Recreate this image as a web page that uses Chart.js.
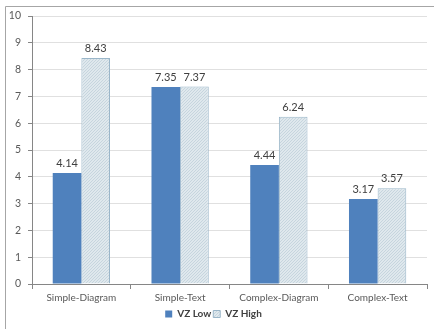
<!DOCTYPE html>
<html>
<head>
<meta charset="utf-8">
<script src="https://cdn.jsdelivr.net/npm/chart.js@4"></script>
<style>
  html, body { margin: 0; padding: 0; background: #ffffff; }
  #wrap { position: relative; width: 434px; height: 329px; }
</style>
</head>
<body>
<div id="wrap"><canvas id="c" width="434" height="329"></canvas></div>
<script>
// Mean scores per task type for low and high VZ groups
const categories = ['Simple-Diagram', 'Simple-Text', 'Complex-Diagram', 'Complex-Text'];
const vzLow  = [4.14, 7.35, 4.44, 3.17];
const vzHigh = [8.43, 7.37, 6.24, 3.57];
const yTicks = [0, 1, 2, 3, 4, 5, 6, 7, 8, 9, 10];

const FONT = 'Lato, "Open Sans", sans-serif';
const TEXT = '#595959';

// fine diagonal hatch used for the high group
function hatchPattern() {
  const p = document.createElement('canvas');
  p.width = 3; p.height = 3;
  const g = p.getContext('2d');
  g.fillStyle = '#dfe8ed';
  g.fillRect(0, 0, 3, 3);
  g.fillStyle = '#c6d5de';
  g.fillRect(2, 0, 1, 1);
  g.fillRect(1, 1, 1, 1);
  g.fillRect(0, 2, 1, 1);
  return g.createPattern(p, 'repeat');
}

// value labels above every bar
const valueLabels = {
  id: 'valueLabels',
  afterDatasetsDraw(chart) {
    const ctx = chart.ctx;
    ctx.save();
    ctx.font = '11px ' + FONT;
    ctx.fillStyle = '#404040';
    ctx.textAlign = 'center';
    ctx.textBaseline = 'bottom';
    chart.data.datasets.forEach((ds, i) => {
      chart.getDatasetMeta(i).data.forEach((bar, j) => {
        ctx.fillText(ds.data[j].toFixed(2), bar.x, bar.y - 4);
      });
    });
    ctx.restore();
  }
};

// outer frame of the chart
const frame = {
  id: 'frame',
  beforeDraw(chart) {
    const ctx = chart.ctx;
    ctx.save();
    ctx.strokeStyle = '#a6a6a6';
    ctx.lineWidth = 1;
    ctx.beginPath();
    ctx.moveTo(5.5, chart.height);
    ctx.lineTo(5.5, 6.5);
    ctx.lineTo(chart.width, 6.5);
    ctx.stroke();
    ctx.restore();
  }
};

new Chart(document.getElementById('c'), {
  type: 'bar',
  data: {
    labels: categories,
    datasets: [
      {
        label: 'VZ Low',
        data: vzLow,
        backgroundColor: '#4f81bd',
        borderColor: '#4f81bd',
        borderWidth: 0,
        categoryPercentage: 0.58,
        barPercentage: 1.0
      },
      {
        label: 'VZ High',
        data: vzHigh,
        backgroundColor: hatchPattern(),
        borderColor: '#9ab6c9',
        borderWidth: 1,
        categoryPercentage: 0.58,
        barPercentage: 1.0
      }
    ]
  },
  options: {
    responsive: false,
    animation: false,
    devicePixelRatio: 1,
    layout: { padding: { left: 0, right: 7, top: 16, bottom: 0 } },
    plugins: {
      tooltip: { enabled: false },
      legend: {
        position: 'bottom',
        labels: {
          boxWidth: 7,
          boxHeight: 7,
          padding: 2,
          color: '#404040',
          font: { family: FONT, size: 10, weight: 'bold' }
        }
      }
    },
    scales: {
      x: {
        offset: true,
        afterFit(scale) { scale.height = 23; },
        grid: {
          offset: true,
          drawOnChartArea: false,
          drawTicks: true,
          tickLength: 5,
          color: '#868686'
        },
        border: { color: '#868686' },
        ticks: {
          color: TEXT,
          padding: 3,
          font: { family: FONT, size: 10 }
        }
      },
      y: {
        min: 0,
        max: 10,
        afterFit(scale) { scale.width = 32; },
        afterBuildTicks(scale) { scale.ticks = yTicks.map(v => ({ value: v })); },
        grid: {
          color: '#e0e0e0',
          tickColor: '#868686',
          tickLength: 4,
          drawTicks: true
        },
        border: { color: '#868686' },
        ticks: {
          color: TEXT,
          padding: 7,
          font: { family: FONT, size: 10.5 }
        }
      }
    }
  },
  plugins: [frame, valueLabels]
});
</script>
</body>
</html>
